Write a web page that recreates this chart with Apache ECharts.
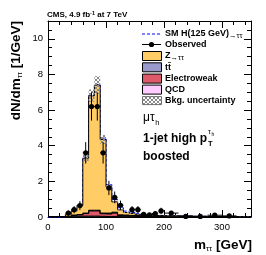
<!DOCTYPE html>
<html><head><meta charset="utf-8">
<script src="https://cdn.jsdelivr.net/npm/echarts@6/dist/echarts.min.js"></script>
<style>html,body{margin:0;padding:0;background:#fff}#c{width:266px;height:255px}</style>
</head><body><div id="c"></div>
<script>
// ---- data ----
const binEdges = [0,10,20,30,40,50,60,70,80,90,100,110,120,130,140,150,160,170,180,190,200,225,250,275,300,325,350];
const zttValues = [0,0,0,0.11,0.24,0.51,3.08,6.42,7.02,4.13,1.48,0.58,0.28,0.14,0.11,0.07,0.04,0.03,0.02,0.02,0.025,0.005,0.01,0.01,0.01,0];
const ttbarValues = [0,0,0,0,0.01,0.01,0.02,0.03,0.03,0.03,0.04,0.04,0.04,0.04,0.03,0.03,0.03,0.03,0.03,0.02,0.02,0.02,0.015,0.01,0.01,0.01];
const ewkValues = [0,0,0,0.02,0.05,0.08,0.15,0.3,0.3,0.15,0.15,0.2,0.06,0.05,0.05,0.04,0.04,0.03,0.03,0.03,0.02,0.02,0.015,0.01,0.01,0.01];
const qcdValues = [0,0,0,0.02,0.05,0.05,0.05,0.05,0.05,0.04,0.03,0.03,0.02,0.02,0.01,0.01,0.01,0.01,0.01,0.01,0.005,0.005,0,0,0,0];
const signalValues = [0,0,0,0,0,0,0.01,0.02,0.04,0.08,0.12,0.14,0.12,0.08,0.05,0.03,0.02,0.01,0.01,0.01,0,0,0,0,0,0];
const bkgUncValues = [0,0,0,0.02,0.03,0.05,0.2,0.35,0.5,0.25,0.12,0.06,0.04,0.03,0.02,0.02,0.02,0.01,0.01,0.01,0.01,0.01,0.01,0.005,0.005,0.005];
const obsX = [35,45,55,65,75,85,95,105,115,125,145,155,165,175,185,195,212.5,237.5,262.5,287.5,312.5];
const obsY = [0.22,0.41,0.64,3.6,6.2,6.2,3.6,1.63,1.1,0.66,0.41,0.41,0.15,0.12,0.19,0.34,0.22,0.03,0.03,0.1,0.06];
const obsErr = [0.15,0.2,0.25,0.6,0.79,0.79,0.6,0.4,0.33,0.26,0.2,0.2,0.12,0.11,0.14,0.18,0.094,0.035,0.035,0.063,0.05];
const obsHalfWidth = [5,5,5,5,5,5,5,5,5,5,5,5,5,5,5,5,12.5,12.5,12.5,12.5,12.5];
const xTickLabels = [0,100,200,300];
const yTickLabels = [0,2,4,6,8,10];
const legendLabels = ['SM H(125 GeV){s|→ττ}','Observed','Z{s|→ττ}','tt\u0304','Electroweak','QCD','Bkg. uncertainty'];

// ---- helpers ----
const FONT = '"Liberation Sans", Arial, Helvetica, sans-serif';
const nb = binEdges.length - 1;
function cum(layers){ const out=[]; let base=new Array(nb).fill(0); out.push(base.slice());
  layers.forEach(l=>{ base = base.map((b,i)=>b+l[i]); out.push(base.slice()); }); return out; }
const layers = [qcdValues, ewkValues, ttbarValues, zttValues];
const layerColors = ['#FFCCFF','#DE5A6A','#9999CC','#FFCC66'];
const stacks = cum(layers);
const total = stacks[stacks.length-1];
const withSignal = total.map((t,i)=>t+signalValues[i]);
const uncLo = total.map((t,i)=>Math.max(0,t-bkgUncValues[i]));
const uncHi = total.map((t,i)=>t+bkgUncValues[i]);
function stepPts(arr){ const p=[]; for(let i=0;i<nb;i++){ p.push([binEdges[i],arr[i]]); p.push([binEdges[i+1],arr[i]]); } return p; }

// hatch pattern
const pat = document.createElement('canvas'); pat.width=4; pat.height=4;
(function(){ const gc=pat.getContext('2d'); gc.fillStyle='#8a8a8a';
  [[0,0],[1,1],[2,2],[3,3],[3,0],[2,1],[1,2],[0,3]].forEach(p=>gc.fillRect(p[0],p[1],1,1)); })();

function polySeries(lo, hi, style, z){
  return {type:'custom', coordinateSystem:'cartesian2d', data:[[0,0]], z:z, silent:true, animation:false, clip:true,
    renderItem:function(params, api){
      const pts = stepPts(hi).concat(stepPts(lo).reverse()).map(p=>api.coord(p));
      return {type:'polygon', shape:{points:pts}, style:style};
    }};
}
function lineSeries(arr, style, z){
  return {type:'custom', coordinateSystem:'cartesian2d', data:[[0,0]], z:z, silent:true, animation:false,
    renderItem:function(params, api){
      const pts = stepPts(arr).map(p=>api.coord(p));
      return {type:'polyline', shape:{points:pts}, style:style};
    }};
}

const series = [];
// signal line drawn beneath the stack so only its part above the total shows
series.push(lineSeries(withSignal, {fill:null, stroke:'#0000ff', lineWidth:1, lineDash:[3,2]}, 1));
layers.forEach((l,k)=>{
  series.push(polySeries(stacks[k], stacks[k+1], {fill:layerColors[k], stroke:'#000', lineWidth:1}, 2+k));
});
series.push(polySeries(uncLo, uncHi, {fill:{image:pat, repeat:'repeat'}, stroke:null}, 7));
series.push({type:'custom', coordinateSystem:'cartesian2d', z:10, silent:true, animation:false,
  data: obsX.map((x,i)=>[x, obsY[i], obsErr[i], obsHalfWidth[i]]),
  renderItem:function(params, api){
    const x=api.value(0), y=api.value(1), e=api.value(2), hw=api.value(3);
    const c=api.coord([x,y]), t=api.coord([x,y+e]), b=api.coord([x,Math.max(0,y-e)]);
    const l=api.coord([x-hw,y]), r=api.coord([x+hw,y]);
    return {type:'group', children:[
      {type:'line', shape:{x1:c[0],y1:t[1],x2:c[0],y2:b[1]}, style:{stroke:'#000',lineWidth:1}},
      {type:'line', shape:{x1:l[0],y1:c[1],x2:r[0],y2:c[1]}, style:{stroke:'#000',lineWidth:1}},
      {type:'circle', shape:{cx:c[0],cy:c[1],r:2.6}, style:{fill:'#000'}}
    ]};
  }});

const axisCommon = {
  axisLine:{show:true, onZero:false, lineStyle:{color:'#000', width:1}},
  splitLine:{show:false},
  axisTick:{show:true, inside:true, length:7, lineStyle:{color:'#000', width:1}},
  minorTick:{show:true, length:4, lineStyle:{color:'#000', width:1}}
};
const xInt = xTickLabels[1]-xTickLabels[0], yInt = yTickLabels[1]-yTickLabels[0];
const option = {
  animation:false,
  grid:{left:48, right:15, top:21, bottom:38},
  xAxis:[
    Object.assign({}, axisCommon, {type:'value', min:0, max:350, interval:xInt, position:'bottom',
      minorTick:Object.assign({}, axisCommon.minorTick, {splitNumber:5}),
      axisLabel:{fontSize:9.5, color:'#000', margin:5, fontFamily:FONT, showMaxLabel:false}}),
    Object.assign({}, axisCommon, {type:'value', min:0, max:350, interval:xInt, position:'top',
      minorTick:Object.assign({}, axisCommon.minorTick, {splitNumber:5}), axisLabel:{show:false}})
  ],
  yAxis:[
    Object.assign({}, axisCommon, {type:'value', min:0, max:11, interval:yInt, position:'left',
      minorTick:Object.assign({}, axisCommon.minorTick, {splitNumber:4}),
      axisLabel:{fontSize:9.5, color:'#000', margin:5, fontFamily:FONT, showMaxLabel:false}}),
    Object.assign({}, axisCommon, {type:'value', min:0, max:11, interval:yInt, position:'right',
      minorTick:Object.assign({}, axisCommon.minorTick, {splitNumber:4}), axisLabel:{show:false}})
  ],
  series: series
};

// ---- text & legend graphics ----
const g = [];
const mctx = document.createElement('canvas').getContext('2d');
function tw(txt, font){ mctx.font = font; return mctx.measureText(txt).width; }

g.push({type:'text', x:47, y:15, z:20, style:{text:'CMS, 4.9 fb{sup|-1} at 7 TeV', fill:'#000', fontFamily:FONT, fontWeight:'bold', fontSize:8, verticalAlign:'middle', lineHeight:10,
  rich:{sup:{fontSize:5.5, fontWeight:'bold', fontFamily:FONT, verticalAlign:'top', lineHeight:6}}}});

g.push({type:'text', x:16, y:21, rotation:Math.PI/2, z:20, style:{text:'dN/dm{s|ττ} [1/GeV]', fill:'#000', fontFamily:FONT, fontWeight:'bold', fontSize:13.5, textAlign:'right', verticalAlign:'middle', lineHeight:16,
  rich:{s:{fontSize:8, fontFamily:FONT, verticalAlign:'bottom', lineHeight:10}}}});
g.push({type:'text', x:252, y:245, z:20, style:{text:'m{s|ττ} [GeV]', fill:'#000', fontFamily:FONT, fontWeight:'bold', fontSize:13.5, textAlign:'right', verticalAlign:'middle', lineHeight:16,
  rich:{s:{fontSize:8, fontFamily:FONT, verticalAlign:'bottom', lineHeight:10}}}});

const legY = [34, 44.5, 56, 67.3, 78.6, 89.6, 100.6];
const lx0 = 142, lx1 = 161, tx = 165;
legendLabels.forEach((lab,i)=>{
  const y = legY[i];
  if(i===0){
    g.push({type:'line', z:20, shape:{x1:lx0,y1:y,x2:lx1,y2:y}, style:{stroke:'#0000ff', lineWidth:1, lineDash:[3,2]}});
  } else if(i===1){
    g.push({type:'line', z:20, shape:{x1:lx0,y1:y,x2:lx1,y2:y}, style:{stroke:'#000', lineWidth:1}});
    g.push({type:'circle', z:21, shape:{cx:(lx0+lx1)/2, cy:y, r:2.6}, style:{fill:'#000'}});
  } else if(i<6){
    const colIdx = {2:3, 3:2, 4:1, 5:0}[i];
    g.push({type:'rect', z:20, shape:{x:lx0+0.5, y:y-4.5, width:lx1-lx0, height:9}, style:{fill:layerColors[colIdx], stroke:'#000', lineWidth:1}});
  } else {
    g.push({type:'rect', z:20, shape:{x:lx0+0.5, y:y-4, width:lx1-lx0, height:8}, style:{fill:{image:pat, repeat:'repeat'}, stroke:'#555', lineWidth:0.8}});
  }
  g.push({type:'text', x:tx, y:y, z:20, style:{text:lab, fill:'#000', fontFamily:FONT, fontWeight:'bold', fontSize:9, verticalAlign:'middle', lineHeight:11,
    rich:{s:{fontSize:7.5, fontFamily:FONT, fontWeight:'normal', verticalAlign:'bottom', lineHeight:10}}}});
});

const ax = 143;
g.push({type:'text', x:ax, y:118, z:20, style:{text:'μτ', fill:'#000', fontFamily:FONT, fontSize:12, verticalAlign:'middle'}});
const muW = tw('μτ', '12px ' + FONT);
g.push({type:'text', x:ax+muW+0.5, y:122.5, z:20, style:{text:'h', fill:'#000', fontFamily:FONT, fontSize:7.5, verticalAlign:'middle'}});
const bf = 'bold 12px ' + FONT;
g.push({type:'text', x:ax, y:138.3, z:20, style:{text:'1-jet high p', fill:'#000', fontFamily:FONT, fontWeight:'bold', fontSize:12, verticalAlign:'middle'}});
const pw = tw('1-jet high p', bf);
g.push({type:'text', x:ax+pw+1, y:143.5, z:20, style:{text:'T', fill:'#000', fontFamily:FONT, fontWeight:'bold', fontSize:7.5, verticalAlign:'middle'}});
g.push({type:'text', x:ax+pw+1, y:132, z:20, style:{text:'τ', fill:'#000', fontFamily:FONT, fontSize:7, verticalAlign:'middle'}});
g.push({type:'text', x:ax+pw+4.5, y:134.5, z:20, style:{text:'h', fill:'#000', fontFamily:FONT, fontSize:5, verticalAlign:'middle'}});
g.push({type:'text', x:ax, y:156.7, z:20, style:{text:'boosted', fill:'#000', fontFamily:FONT, fontWeight:'bold', fontSize:12, verticalAlign:'middle'}});

option.graphic = {elements: g};

const chart = echarts.init(document.getElementById('c'), null, {renderer:'canvas', width:266, height:255});
chart.setOption(option);
</script>
</body></html>
